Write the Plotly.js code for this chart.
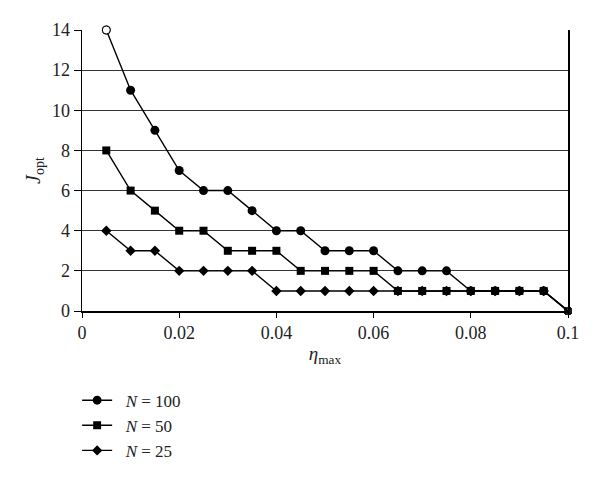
<!DOCTYPE html>
<html>
<head>
<meta charset="utf-8">
<script src="https://cdn.plot.ly/plotly-3.0.1.min.js"></script>
<style>
  body { margin: 0; background: #fff; }
  #fig { width: 600px; height: 495px; }
</style>
</head>
<body>
<div id="fig"></div>
<script>
// eta_max values, shared by all three curves
var etaMax = [0.005, 0.01, 0.015, 0.02, 0.025, 0.03, 0.035, 0.04, 0.045, 0.05,
              0.055, 0.06, 0.065, 0.07, 0.075, 0.08, 0.085, 0.09, 0.095, 0.1];

// J_opt for each N
var jN100 = [14, 11, 9, 7, 6, 6, 5, 4, 4, 3, 3, 3, 2, 2, 2, 1, 1, 1, 1, 0];
var jN50  = [8, 6, 5, 4, 4, 3, 3, 3, 2, 2, 2, 2, 1, 1, 1, 1, 1, 1, 1, 0];
var jN25  = [4, 3, 3, 2, 2, 2, 2, 1, 1, 1, 1, 1, 1, 1, 1, 1, 1, 1, 1, 0];

var yTicks = [0, 2, 4, 6, 8, 10, 12, 14];
var xTicks = [0, 0.02, 0.04, 0.06, 0.08, 0.1];
var xTickText = ['0', '0.02', '0.04', '0.06', '0.08', '0.1'];

var serif = '"Liberation Serif", "DejaVu Serif", serif';
var pad = '&nbsp;&nbsp;';

// end point at 0.1 is drawn as a small hollow square
function symbols(base, n) {
  var s = [];
  for (var i = 0; i < n; i++) s.push(base);
  s[n - 1] = 'square-open';
  return s;
}
function sizes(base, n) {
  var s = [];
  for (var i = 0; i < n; i++) s.push(base);
  s[n - 1] = 6;
  return s;
}

var line = {color: '#000', width: 1.4};

function curve(y, name, sym, size, rank) {
  return {x: etaMax, y: y, name: pad + name, type: 'scatter', mode: 'lines+markers',
          line: line, legendrank: rank, cliponaxis: false, opacity: 1,
          marker: {color: '#000', opacity: 1, size: sizes(size, etaMax.length),
                   symbol: symbols(sym, etaMax.length), line: {width: 0, color: '#000'}}};
}

var traces = [
  curve(jN100, '<i>N</i> = 100', 'circle', 9, 1),
  curve(jN25, '<i>N</i> = 25', 'diamond', 8, 3),
  curve(jN50, '<i>N</i> = 50', 'square', 8, 2),
  // first N=100 point is drawn hollow in the source
  {x: [etaMax[0]], y: [jN100[0]], type: 'scatter', mode: 'markers', showlegend: false,
   cliponaxis: false,
   marker: {symbol: 'circle', size: 8, color: '#fff', line: {width: 1, color: '#000'}}}
];

var layout = {
  width: 600, height: 495,
  margin: {l: 82, r: 32, t: 30, b: 184},
  paper_bgcolor: '#fff', plot_bgcolor: '#fff',
  font: {family: serif, size: 18, color: '#222'},
  showlegend: true,
  legend: {x: -0.01, xanchor: 'left', y: -0.255, yanchor: 'top',
           font: {family: serif, size: 17, color: '#222'},
           tracegroupgap: 0, itemwidth: 30, bgcolor: 'rgba(0,0,0,0)'},
  xaxis: {
    range: [0, 0.1], tickvals: xTicks, ticktext: xTickText,
    showline: true, linecolor: '#000', linewidth: 1.5,
    ticks: 'outside', ticklen: 5, tickcolor: '#000',
    showgrid: false, zeroline: false, mirror: false,
    title: {text: '<i>η</i><sub>max</sub>', font: {family: serif, size: 19}, standoff: 4}
  },
  yaxis: {
    range: [0, 14], tickvals: yTicks,
    showline: true, linecolor: '#000', linewidth: 1.5, mirror: true,
    ticks: 'outside', ticklen: 7, tickcolor: '#000',
    showgrid: true, gridcolor: '#333', gridwidth: 1.2, zeroline: false,
    title: {text: '<i>J</i><sub>opt</sub>', font: {family: serif, size: 20}, standoff: 6}
  }
};

Plotly.newPlot('fig', traces, layout, {displayModeBar: false, staticPlot: true});
</script>
</body>
</html>
